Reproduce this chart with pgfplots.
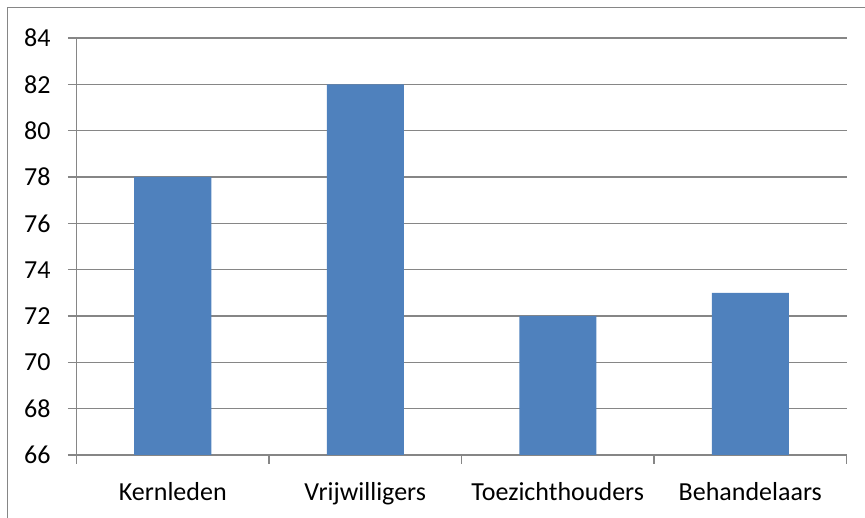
\documentclass[border=0pt]{standalone}
\usepackage{pgfplots}
\pgfplotsset{compat=1.18}
\usepackage{fontspec}
\setmainfont{Carlito}
\definecolor{barblue}{RGB}{79,129,189}
\definecolor{axgray}{RGB}{134,134,134}
\begin{document}
\begin{tikzpicture}
\begin{axis}[
    name=ax,
    scale only axis,
    width=770bp, height=417bp,
    xmin=-0.5, xmax=3.5,
    ymin=66, ymax=84,
    ytick={66,68,...,84},
    xtick={-0.5,0.5,1.5,2.5,3.5},
    xticklabels={},
    extra x ticks={0,1,2,3},
    extra x tick labels={Kernleden, Vrijwilligers, Toezichthouders, Behandelaars},
    extra x tick style={major tick length=0pt, xticklabel style={yshift=-24bp}},
    axis x line*=bottom, axis y line*=left,
    axis line style={-, axgray, line width=1.3bp},
    tick style={axgray, line width=1.3bp},
    tick align=outside,
    major tick length=8.5bp,
    ymajorgrids,
    grid style={axgray, line width=1.3bp},
    tick label style={font=\fontsize{26bp}{31bp}\selectfont, text=black},
    /pgf/number format/assume math mode=true,
    yticklabel style={xshift=-14bp},
    ybar, bar width=77bp,
]
\addplot[fill=barblue, draw=none] coordinates {
    (0,78) (1,82) (2,72) (3,73)
};
\end{axis}
\pgfresetboundingbox
\useasboundingbox ([shift={(-76.5bp,-63bp)}]ax.south west) rectangle +(865bp,518bp);
\draw[axgray, line width=1.3bp]
    ([shift={(-69bp,-70bp)}]ax.south west) -- ([shift={(-69bp,447.5bp)}]ax.south west)
    -- ([shift={(795bp,447.5bp)}]ax.south west);
\end{tikzpicture}
\end{document}
